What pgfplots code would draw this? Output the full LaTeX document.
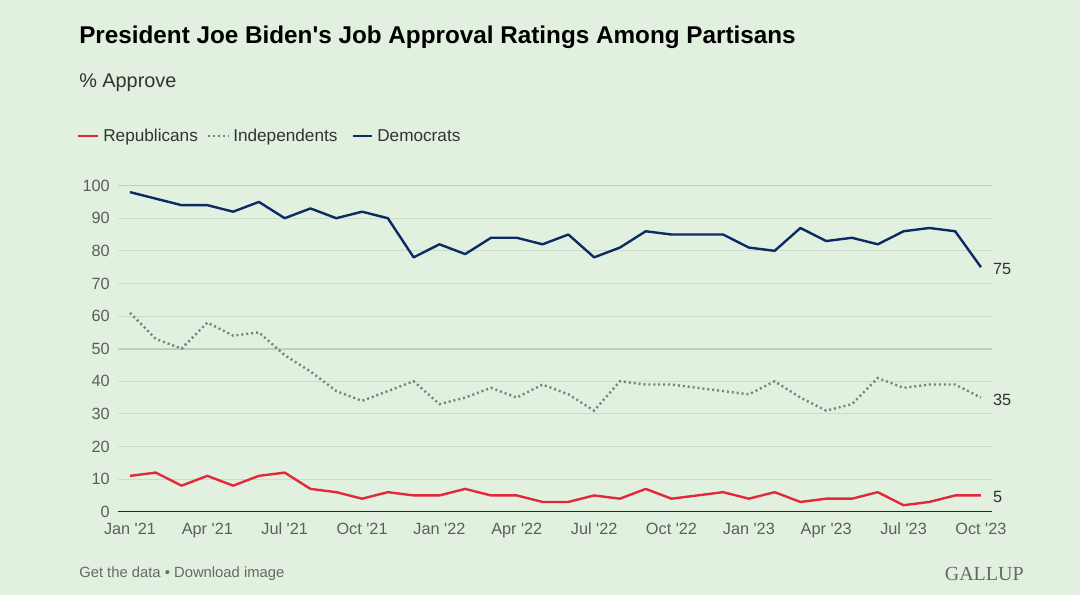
\documentclass[border=0pt]{standalone}
\usepackage{fontspec}
\setmainfont{Liberation Sans}[Ligatures=TeXOff]
\newfontfamily\gallupfont{Liberation Serif}
\usepackage{pgfplots}
\pgfplotsset{compat=1.18}
\usepackage{pgfplotstable}
\definecolor{bgc}{HTML}{E2F0DF}
\definecolor{gridc}{HTML}{CCDCCA}
\definecolor{gridd}{HTML}{BFCFBD}
\definecolor{repc}{HTML}{E2293A}
\definecolor{indc}{HTML}{678A7D}
\definecolor{demc}{HTML}{0C2A63}
\definecolor{tickc}{HTML}{5A5F5A}
\definecolor{footc}{HTML}{666A66}
\pgfplotstableread{
i R I D
0 11 61 98
1 12 53 96
2 8 50 94
3 11 58 94
4 8 54 92
5 11 55 95
6 12 48 90
7 7 43 93
8 6 37 90
9 4 34 92
10 6 37 90
11 5 40 78
12 5 33 82
13 7 35 79
14 5 38 84
15 5 35 84
16 3 39 82
17 3 36 85
18 5 31 78
19 4 40 81
20 7 39 86
21 4 39 85
22 5 38 85
23 6 37 85
24 4 36 81
25 6 40 80
26 3 35 87
27 4 31 83
28 4 33 84
29 6 41 82
30 2 38 86
31 3 39 87
32 5 39 86
33 5 35 75
}\datatable
\begin{document}
\begin{tikzpicture}
\fill[bgc] (0,0) rectangle (810pt,-446.25pt);
\node[anchor=base west, inner sep=0pt, font=\fontsize{18.2}{21}\selectfont\bfseries] at (59.25pt,-32.5pt) {President Joe Biden's Job Approval Ratings Among Partisans};
\node[anchor=base west, inner sep=0pt, font=\fontsize{14.9}{17}\selectfont, text=black!80] at (59.25pt,-66pt) {\% Approve};
% legend
\draw[repc, line width=1.8pt] (58.5pt,-102pt) -- (73.5pt,-102pt);
\node[anchor=base west, inner sep=0pt, font=\fontsize{12.9}{15}\selectfont, text=black!80] at (77.25pt,-106.1pt) {Republicans};
\draw[indc, line width=1.8pt, dash pattern=on 1.5pt off 2.2pt] (156pt,-102pt) -- (171pt,-102pt);
\node[anchor=base west, inner sep=0pt, font=\fontsize{12.9}{15}\selectfont, text=black!80] at (174.75pt,-106.1pt) {Independents};
\draw[demc, line width=1.8pt] (264.75pt,-102pt) -- (279pt,-102pt);
\node[anchor=base west, inner sep=0pt, font=\fontsize{12.9}{15}\selectfont, text=black!80] at (282.75pt,-106.1pt) {Democrats};
% footer
\node[anchor=base west, inner sep=0pt, font=\fontsize{11.1}{13}\selectfont, text=footc] at (59.25pt,-432.75pt) {Get the data \textbullet{} Download image};
\node[anchor=base east, inner sep=0pt, font=\gallupfont\fontsize{15}{17}\selectfont, text=footc] at (768pt,-435pt) {GALLUP};
\begin{axis}[
  at={(88.5pt,-383.8pt)}, anchor=south west,
  scale only axis, width=655.5pt, height=244.6pt,
  xmin=-0.465, xmax=33.43, ymin=0, ymax=100,
  axis line style={draw=none},
  major tick length=0pt,
  ytick={10,20,...,100},
  extra y ticks={0},
  extra y tick style={grid=none},
  xtick={0,3,...,33},
  xticklabels={Jan '21,Apr '21,Jul '21,Oct '21,Jan '22,Apr '22,Jul '22,Oct '22,Jan '23,Apr '23,Jul '23,Oct '23},
  ymajorgrids,
  grid style={color=gridc, line width=0.8pt},
  tick label style={font=\fontsize{12.2}{14}\selectfont, text=tickc},
  yticklabel style={anchor=east, inner sep=0pt, xshift=-6pt},
  xticklabel style={anchor=north, inner sep=0pt, yshift=-8pt},
  /pgf/number format/assume math mode=true,
  clip=false,
]
\draw[gridd, line width=1.3pt] (axis cs:-0.465,50) -- (axis cs:33.43,50);
\draw[gridd, line width=1.3pt] (axis cs:-0.465,100) -- (axis cs:33.43,100);
\addplot[repc, line width=1.8pt, line join=round] table[x=i, y=R] {\datatable};
\addplot[indc, line width=1.8pt, dash pattern=on 1.5pt off 2.2pt] table[x=i, y=I] {\datatable};
\addplot[demc, line width=1.8pt, line join=round] table[x=i, y=D] {\datatable};
\draw[black!85, line width=0.9pt] (axis cs:-0.465,0) -- (axis cs:33.43,0);
\node[anchor=west, inner sep=0pt, font=\fontsize{12.2}{14}\selectfont, text=black!80, xshift=9pt, yshift=-1.5pt] at (axis cs:33,75) {75};
\node[anchor=west, inner sep=0pt, font=\fontsize{12.2}{14}\selectfont, text=black!80, xshift=9pt, yshift=-1.5pt] at (axis cs:33,35) {35};
\node[anchor=west, inner sep=0pt, font=\fontsize{12.2}{14}\selectfont, text=black!80, xshift=9pt, yshift=-1.5pt] at (axis cs:33,5) {5};
\end{axis}
\end{tikzpicture}
\end{document}
